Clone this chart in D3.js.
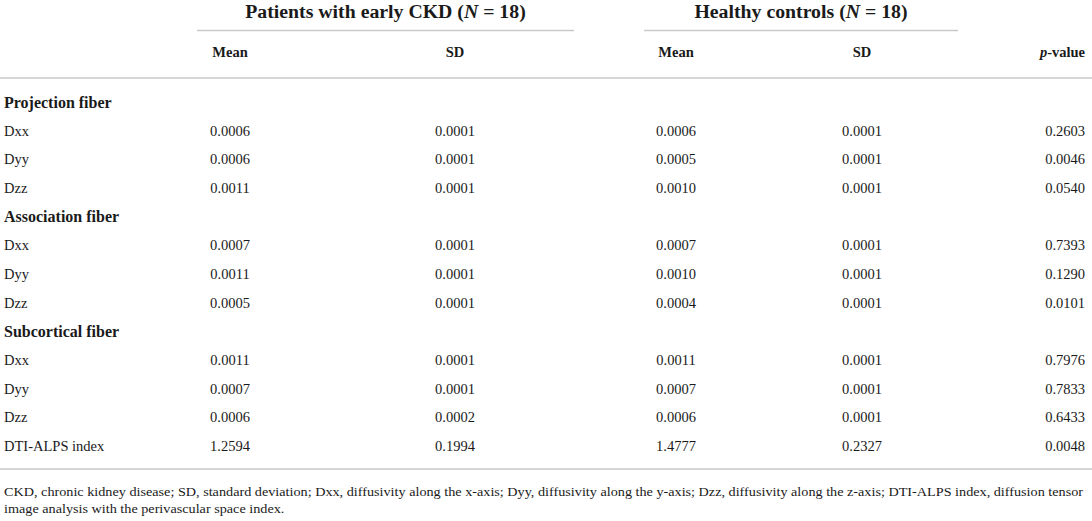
<!DOCTYPE html>
<html>
<head>
<meta charset="utf-8">
<script src="https://cdn.jsdelivr.net/npm/d3@7"></script>
<style>
  html, body { margin: 0; padding: 0; background: #fff; }
  svg { display: block; }
  text { font-family: "Liberation Serif", "DejaVu Serif", serif; fill: #1a1a1a; }
</style>
</head>
<body>
<svg id="chart" width="1092" height="521"></svg>
<script>
// ---- data ----
const groupNames = ["Patients with early CKD", "Healthy controls"];
const groupN = [18, 18];
const columnHeaders = ["Mean", "SD", "Mean", "SD", "p-value"];
const rowLabels = ["Projection fiber", "Dxx", "Dyy", "Dzz",
                   "Association fiber", "Dxx", "Dyy", "Dzz",
                   "Subcortical fiber", "Dxx", "Dyy", "Dzz", "DTI-ALPS index"];
const sectionRows = [0, 4, 8];
const ckdMean = [null, 0.0006, 0.0006, 0.0011, null, 0.0007, 0.0011, 0.0005, null, 0.0011, 0.0007, 0.0006, 1.2594];
const ckdSD   = [null, 0.0001, 0.0001, 0.0001, null, 0.0001, 0.0001, 0.0001, null, 0.0001, 0.0001, 0.0002, 0.1994];
const hcMean  = [null, 0.0006, 0.0005, 0.0010, null, 0.0007, 0.0010, 0.0004, null, 0.0011, 0.0007, 0.0006, 1.4777];
const hcSD    = [null, 0.0001, 0.0001, 0.0001, null, 0.0001, 0.0001, 0.0001, null, 0.0001, 0.0001, 0.0001, 0.2327];
const pValue  = [null, 0.2603, 0.0046, 0.0540, null, 0.7393, 0.1290, 0.0101, null, 0.7976, 0.7833, 0.6433, 0.0048];
const footnoteLines = [
  "CKD, chronic kidney disease; SD, standard deviation; Dxx, diffusivity along the x-axis; Dyy, diffusivity along the y-axis; Dzz, diffusivity along the z-axis; DTI-ALPS index, diffusion tensor",
  "image analysis with the perivascular space index."
];

// ---- layout ----
const svg = d3.select("#chart");
const W = 1092;
const fmt = d3.format(".4f");
const series = [ckdMean, ckdSD, hcMean, hcSD, pValue];

const colKeys = d3.range(columnHeaders.length);
const xCol = d3.scaleOrdinal().domain(colKeys).range([230, 455, 676, 862, 1085]);
const anchorCol = k => (k === 4 ? "end" : "middle");
const y = d3.scalePoint().domain(d3.range(rowLabels.length)).range([102, 446]);

const groupSpan = d3.scaleOrdinal().domain([0, 1]).range([[197, 574], [644, 958]]);

const lineColor = "#c9c9c9";

// group titles
groupNames.forEach((g, i) => {
  const [a, b] = groupSpan(i);
  const t = svg.append("text")
    .attr("x", (a + b) / 2).attr("y", 18)
    .attr("text-anchor", "middle")
    .attr("font-size", 19.8).attr("font-weight", "bold");
  t.append("tspan").text(g + " (");
  t.append("tspan").attr("font-style", "italic").text("N");
  t.append("tspan").text(" = " + groupN[i] + ")");
  svg.append("line").attr("x1", a).attr("x2", b).attr("y1", 30.5).attr("y2", 30.5)
    .attr("stroke", lineColor).attr("stroke-width", 1.5);
});

// column headers
colKeys.forEach(k => {
  const t = svg.append("text")
    .attr("x", xCol(k)).attr("y", 52).attr("dy", "0.35em")
    .attr("text-anchor", anchorCol(k))
    .attr("font-size", 14.5).attr("font-weight", "bold");
  if (columnHeaders[k] === "p-value") {
    t.append("tspan").attr("font-style", "italic").text("p");
    t.append("tspan").text("-value");
  } else {
    t.text(columnHeaders[k]);
  }
});

// rules
[78, 469].forEach(yy => {
  svg.append("line").attr("x1", 0).attr("x2", W).attr("y1", yy).attr("y2", yy)
    .attr("stroke", lineColor).attr("stroke-width", 1.5);
});

// row labels
svg.append("g").selectAll("text").data(rowLabels).join("text")
  .attr("x", 4).attr("y", (d, i) => y(i)).attr("dy", "0.35em")
  .attr("font-size", (d, i) => sectionRows.includes(i) ? 16 : 14.5)
  .attr("font-weight", (d, i) => sectionRows.includes(i) ? "bold" : "normal")
  .text(d => d);

// cells
series.forEach((vals, k) => {
  svg.append("g").selectAll("text")
    .data(vals.map((v, i) => ({ v, i })).filter(d => d.v !== null))
    .join("text")
    .attr("x", xCol(k)).attr("y", d => y(d.i)).attr("dy", "0.35em")
    .attr("text-anchor", anchorCol(k))
    .attr("font-size", 14.5)
    .text(d => fmt(d.v));
});

// footnote: fit first line to the table width, apply same stretch to the second
const fn = svg.append("g").selectAll("text").data(footnoteLines).join("text")
  .attr("x", 4).attr("y", (d, i) => 491 + i * 17).attr("dy", "0.35em")
  .attr("font-size", 13.5)
  .text(d => d);
const ratio = 1079 / fn.nodes()[0].getComputedTextLength();
fn.each(function() {
  const w = this.getComputedTextLength();
  d3.select(this).attr("textLength", w * ratio).attr("lengthAdjust", "spacingAndGlyphs");
});
</script>
</body>
</html>
